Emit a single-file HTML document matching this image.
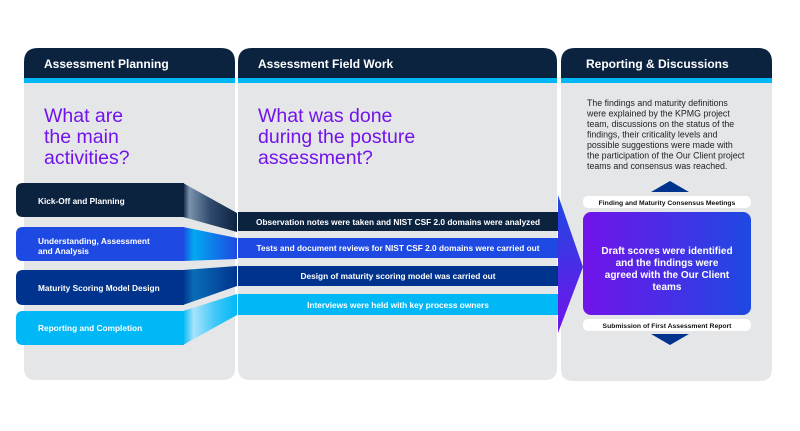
<!DOCTYPE html>
<html><head><meta charset="utf-8"><style>
html,body{margin:0;padding:0;background:#fff;}
svg{display:block;font-family:"Liberation Sans",Arial,sans-serif;}
</style></head><body>
<svg width="800" height="431" viewBox="0 0 800 431" xmlns="http://www.w3.org/2000/svg">
<defs>
<linearGradient id="t1" x1="183" x2="237" y1="0" y2="0" gradientUnits="userSpaceOnUse"><stop offset="0" stop-color="#0c2340"/><stop offset="0.12" stop-color="#7a93ad"/><stop offset="0.5" stop-color="#2f4b6e"/><stop offset="1" stop-color="#0c2340"/></linearGradient>
<linearGradient id="t2" x1="183" x2="237" y1="0" y2="0" gradientUnits="userSpaceOnUse"><stop offset="0" stop-color="#1e49e2"/><stop offset="0.2" stop-color="#00a9f0"/><stop offset="1" stop-color="#1e49e2"/></linearGradient>
<linearGradient id="t3" x1="183" x2="237" y1="0" y2="0" gradientUnits="userSpaceOnUse"><stop offset="0" stop-color="#00338d"/><stop offset="0.2" stop-color="#0a6db5"/><stop offset="1" stop-color="#00338d"/></linearGradient>
<linearGradient id="t4" x1="183" x2="237" y1="0" y2="0" gradientUnits="userSpaceOnUse"><stop offset="0" stop-color="#00b8f5"/><stop offset="0.2" stop-color="#a8e4fb"/><stop offset="0.6" stop-color="#3fc7f7"/><stop offset="1" stop-color="#00b8f5"/></linearGradient>
<linearGradient id="arr" x1="0" x2="0" y1="195" y2="333" gradientUnits="userSpaceOnUse"><stop offset="0" stop-color="#1e49e2"/><stop offset="1" stop-color="#7213ea"/></linearGradient>
<linearGradient id="box" x1="0" x2="1" y1="0" y2="0"><stop offset="0" stop-color="#7213ea"/><stop offset="1" stop-color="#1e49e2"/></linearGradient>
</defs>
<g>
<path d="M24,380 V62 Q24,48 38,48 H221 Q235,48 235,62 V368 Q235,380 223,380 H36 Q24,380 24,368 Z" fill="#e5e6e8"/>
<path d="M24,78 V62 Q24,48 38,48 H221 Q235,48 235,62 V78 Z" fill="#0c2340"/>
<rect x="24" y="78" width="211" height="5" fill="#00b8f5"/>
<path d="M238,380 V62 Q238,48 252,48 H543 Q557,48 557,62 V368 Q557,380 545,380 H250 Q238,380 238,368 Z" fill="#e5e6e8"/>
<path d="M238,78 V62 Q238,48 252,48 H543 Q557,48 557,62 V78 Z" fill="#0c2340"/>
<rect x="238" y="78" width="319" height="5" fill="#00b8f5"/>
<path d="M561,381 V62 Q561,48 575,48 H758 Q772,48 772,62 V369 Q772,381 760,381 H573 Q561,381 561,369 Z" fill="#e5e6e8"/>
<path d="M561,78 V62 Q561,48 575,48 H758 Q772,48 772,62 V78 Z" fill="#0c2340"/>
<rect x="561" y="78" width="211" height="5" fill="#00b8f5"/>
</g>
<g fill="#fff" font-weight="bold" font-size="12">
<text x="44" y="68">Assessment Planning</text>
<text x="258" y="68">Assessment Field Work</text>
<text x="586" y="68">Reporting &amp; Discussions</text>
</g>
<g fill="#7213ea" font-size="19.5">
<text x="44" y="122">What are</text>
<text x="44" y="143">the main</text>
<text x="44" y="164">activities?</text>
<text x="258" y="122">What was done</text>
<text x="258" y="143">during the posture</text>
<text x="258" y="164">assessment?</text>
</g>
<rect x="238" y="212" width="320" height="19" fill="#0c2340"/>
<rect x="238" y="238" width="320" height="20" fill="#1e49e2"/>
<rect x="238" y="266" width="320" height="20" fill="#00338d"/>
<rect x="238" y="294" width="320" height="21" fill="#00b8f5"/>
<g fill="#fff" font-weight="bold" font-size="8.3" text-anchor="middle">
<text x="398" y="225">Observation notes were taken and NIST CSF 2.0 domains were analyzed</text>
<text x="398" y="251">Tests and document reviews for NIST CSF 2.0 domains were carried out</text>
<text x="398" y="279">Design of maturity scoring model was carried out</text>
<text x="398" y="308">Interviews were held with key process owners</text>
</g>
<path d="M183,183 L237,213 L237,232 L183,217 Z" fill="url(#t1)"/>
<path d="M183,227 L237,238 L237,259 L183,261 Z" fill="url(#t2)"/>
<path d="M183,270 L237,266 L237,286 L183,305 Z" fill="url(#t3)"/>
<path d="M183,311 L237,294 L237,315 L183,345 Z" fill="url(#t4)"/>
<path d="M23,183 H184 V217 H23 Q16,217 16,210 V190 Q16,183 23,183 Z" fill="#0c2340"/>
<path d="M23,227 H184 V261 H23 Q16,261 16,254 V234 Q16,227 23,227 Z" fill="#1e49e2"/>
<path d="M23,270 H184 V305 H23 Q16,305 16,298 V277 Q16,270 23,270 Z" fill="#00338d"/>
<path d="M23,311 H184 V345 H23 Q16,345 16,338 V318 Q16,311 23,311 Z" fill="#00b8f5"/>
<g fill="#fff" font-weight="bold" font-size="8.3">
<text x="38" y="204">Kick-Off and Planning</text>
<text x="38" y="244">Understanding, Assessment</text>
<text x="38" y="254">and Analysis</text>
<text x="38" y="291">Maturity Scoring Model Design</text>
<text x="38" y="331">Reporting and Completion</text>
</g>
<path d="M558,195 L583,267 L558,333 Z" fill="url(#arr)"/>
<g font-size="8.8" fill="#222">
<text x="587" y="106">The findings and maturity definitions</text>
<text x="587" y="116.5">were explained by the KPMG project</text>
<text x="587" y="127">team, discussions on the status of the</text>
<text x="587" y="137.5">findings, their criticality levels and</text>
<text x="587" y="148">possible suggestions were made with</text>
<text x="587" y="158.5">the participation of the Our Client project</text>
<text x="587" y="169">teams and consensus was reached.</text>
</g>
<polygon points="651,192 670,181 689,192" fill="#00338d"/>
<rect x="583" y="196" width="168" height="12" rx="5" fill="#fff"/>
<text x="667" y="205" font-size="6.8" font-weight="bold" text-anchor="middle" fill="#111">Finding and Maturity Consensus Meetings</text>
<rect x="583" y="212" width="168" height="103" rx="8" fill="url(#box)"/>
<g fill="#fff" font-weight="bold" font-size="10" text-anchor="middle">
<text x="667" y="254">Draft scores were identified</text>
<text x="667" y="266">and the findings were</text>
<text x="667" y="278">agreed with the Our Client</text>
<text x="667" y="290">teams</text>
</g>
<rect x="583" y="319" width="168" height="12" rx="5" fill="#fff"/>
<text x="667" y="328" font-size="6.8" font-weight="bold" text-anchor="middle" fill="#111">Submission of First Assessment Report</text>
<polygon points="651,334 689,334 670,345" fill="#00338d"/>
</svg>
</body></html>
